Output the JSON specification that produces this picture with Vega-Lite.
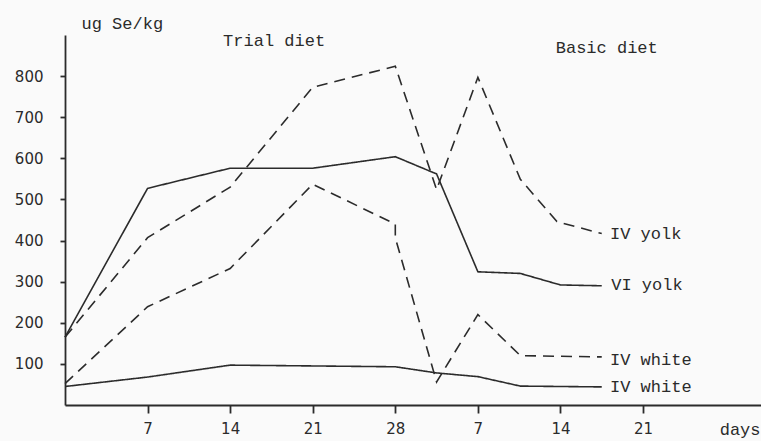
{
  "$schema": "https://vega.github.io/schema/vega-lite/v6.json",
  "width": 696,
  "height": 370,
  "autosize": "none",
  "padding": {"left": 65, "top": 35, "right": 0, "bottom": 36},
  "background": "#fafafa",
  "config": {"view": {"stroke": null}},
  "datasets": {
    "lines": [
      {"series": "VI yolk", "i": 1, "day": 0, "se": 165},
      {"series": "VI yolk", "i": 2, "day": 7, "se": 527},
      {"series": "VI yolk", "i": 3, "day": 14, "se": 576},
      {"series": "VI yolk", "i": 4, "day": 21, "se": 576},
      {"series": "VI yolk", "i": 5, "day": 28, "se": 604},
      {"series": "VI yolk", "i": 6, "day": 31.5, "se": 562},
      {"series": "VI yolk", "i": 7, "day": 35, "se": 324},
      {"series": "VI yolk", "i": 8, "day": 38.6, "se": 320},
      {"series": "VI yolk", "i": 9, "day": 42, "se": 292},
      {"series": "VI yolk", "i": 10, "day": 45.5, "se": 290},
      {"series": "IV yolk", "i": 1, "day": 0, "se": 165},
      {"series": "IV yolk", "i": 2, "day": 7, "se": 407},
      {"series": "IV yolk", "i": 3, "day": 14, "se": 530},
      {"series": "IV yolk", "i": 4, "day": 21, "se": 773},
      {"series": "IV yolk", "i": 5, "day": 28, "se": 824},
      {"series": "IV yolk", "i": 6, "day": 31.5, "se": 524},
      {"series": "IV yolk", "i": 7, "day": 35, "se": 797},
      {"series": "IV yolk", "i": 8, "day": 38.6, "se": 549},
      {"series": "IV yolk", "i": 9, "day": 41.7, "se": 446},
      {"series": "IV yolk", "i": 10, "day": 45.5, "se": 417},
      {"series": "IV white (dashed)", "i": 1, "day": 0, "se": 52},
      {"series": "IV white (dashed)", "i": 2, "day": 7, "se": 239},
      {"series": "IV white (dashed)", "i": 3, "day": 14, "se": 332},
      {"series": "IV white (dashed)", "i": 4, "day": 21, "se": 537},
      {"series": "IV white (dashed)", "i": 5, "day": 28, "se": 440},
      {"series": "IV white (dashed)", "i": 6, "day": 28, "se": 407},
      {"series": "IV white (dashed)", "i": 7, "day": 31.5, "se": 56},
      {"series": "IV white (dashed)", "i": 8, "day": 35, "se": 220},
      {"series": "IV white (dashed)", "i": 9, "day": 38.6, "se": 120},
      {"series": "IV white (dashed)", "i": 10, "day": 45.5, "se": 117},
      {"series": "IV white (solid)", "i": 1, "day": 0, "se": 45},
      {"series": "IV white (solid)", "i": 2, "day": 7, "se": 68},
      {"series": "IV white (solid)", "i": 3, "day": 14, "se": 97},
      {"series": "IV white (solid)", "i": 4, "day": 21, "se": 95},
      {"series": "IV white (solid)", "i": 5, "day": 28, "se": 93},
      {"series": "IV white (solid)", "i": 6, "day": 31.5, "se": 78},
      {"series": "IV white (solid)", "i": 7, "day": 35, "se": 69},
      {"series": "IV white (solid)", "i": 8, "day": 38.6, "se": 46},
      {"series": "IV white (solid)", "i": 9, "day": 45.5, "se": 44}
    ],
    "labels": [
      {"text": "IV yolk", "day": 46.2, "se": 416},
      {"text": "VI yolk", "day": 46.3, "se": 292},
      {"text": "IV white", "day": 46.2, "se": 109},
      {"text": "IV white", "day": 46.2, "se": 44},
      {"text": "Trial diet", "day": 13.4, "se": 886},
      {"text": "Basic diet", "day": 41.6, "se": 869},
      {"text": "days", "day": 55.5, "se": -60},
      {"text": "ug Se/kg", "day": 1.4, "se": 926}
    ]
  },
  "layer": [
    {
      "data": {"name": "lines"},
      "mark": {"type": "line", "strokeWidth": 1.6, "color": "#2b2b2b"},
      "encoding": {
        "x": {
          "field": "day", "type": "quantitative",
          "scale": {"domain": [0, 59], "nice": false, "zero": false},
          "axis": {
            "values": [7, 14, 21, 28, 35, 42, 49],
            "labelExpr": "datum.value > 28 ? datum.value - 28 : datum.value",
            "title": null, "grid": false,
            "domainColor": "#2b2b2b", "domainWidth": 1.8,
            "tickColor": "#2b2b2b", "tickWidth": 1.8, "tickSize": 8,
            "labelFont": "DejaVu Sans", "labelFontSize": 15, "labelColor": "#2b2b2b",
            "labelPadding": 8
          }
        },
        "y": {
          "field": "se", "type": "quantitative",
          "scale": {"domain": [0, 900], "nice": false},
          "axis": {
            "values": [100, 200, 300, 400, 500, 600, 700, 800],
            "title": null, "grid": false,
            "domainColor": "#2b2b2b", "domainWidth": 1.8,
            "tickColor": "#2b2b2b", "tickWidth": 1.8, "tickSize": 5,
            "labelFont": "DejaVu Sans", "labelFontSize": 15, "labelColor": "#2b2b2b",
            "labelPadding": 17
          }
        },
        "detail": {"field": "series"},
        "order": {"field": "i"},
        "strokeDash": {
          "field": "series", "type": "nominal",
          "scale": {
            "domain": ["VI yolk", "IV yolk", "IV white (dashed)", "IV white (solid)"],
            "range": [[1, 0], [11, 7], [11, 7], [1, 0]]
          },
          "legend": null
        }
      }
    },
    {
      "mark": {"type": "rule", "color": "#2b2b2b", "strokeWidth": 1.6},
      "encoding": {
        "x": {"datum": 28, "type": "quantitative"},
        "y": {"datum": 0, "type": "quantitative"},
        "y2": {"datum": 876}
      }
    },
    {
      "data": {"name": "labels"},
      "mark": {"type": "text", "font": "Liberation Mono", "fontSize": 17, "color": "#2b2b2b", "align": "left", "baseline": "middle"},
      "encoding": {
        "x": {"field": "day", "type": "quantitative"},
        "y": {"field": "se", "type": "quantitative"},
        "text": {"field": "text"},
        "align": {"condition": {"test": "datum.text == 'Trial diet' || datum.text == 'Basic diet' || datum.text == 'days'", "value": "center"}, "value": "left"}
      }
    }
  ]
}
